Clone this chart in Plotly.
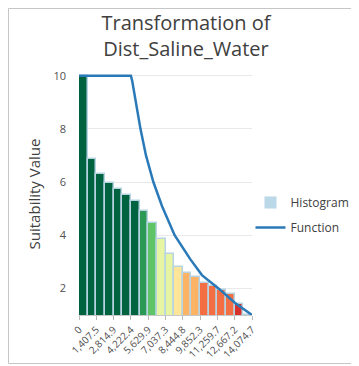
import plotly.graph_objects as go

# ---------------- data ----------------
x_max = 14074.7
n_bins = 20
hist_values = [10.0, 6.88, 6.32, 5.98, 5.75, 5.52, 5.30, 4.92, 4.45, 3.85,
               3.30, 2.80, 2.57, 2.44, 2.22, 2.09, 1.95, 1.78, 1.41, 1.0]
bar_colors = ["#006340", "#006340", "#006340", "#006340", "#006340", "#006340", "#006340",
              "#2b9956", "#5ec466", "#e7f4a1", "#e7f4a1", "#fee597", "#fdb366", "#fdb366",
              "#f46e43", "#f46e43", "#f46e43", "#f46e43", "#d7302d", "#b51c2c"]

func_x = [0, 4222.4, 4330, 4600, 5000, 5450, 6050, 6750, 7780, 9050, 10000, 11350, 12700, 14074.7]
func_y = [10, 10, 9.8, 9.05, 8.0, 7.0, 6.0, 5.1, 4.0, 3.1, 2.5, 2.0, 1.45, 1.0]

tick_vals = [0, 1407.47, 2814.94, 4222.41, 5629.88, 7037.35, 8444.82, 9852.29,
             11259.76, 12667.23, 14074.7]
tick_text = ["0", "1,407.5", "2,814.9", "4,222.4", "5,629.9", "7,037.3", "8,444.8",
             "9,852.3", "11,259.7", "12,667.2", "14,074.7"]

bin_width = x_max / n_bins
bin_starts = [i * bin_width for i in range(n_bins)]

# ---------------- figure ----------------
# the page adds an 8px body margin, so all positions are shifted by 8px
W, H = 351, 358
ml, mr, mt, mb = 71, 107, 65, 51
pw = W - ml - mr
ph = H - mt - mb
FONT = "Open Sans, Noto Sans, sans-serif"

fig = go.Figure()
fig.add_trace(go.Bar(
    x=bin_starts, y=hist_values, width=bin_width, offset=0,
    marker=dict(color=bar_colors, line=dict(color="#b7d4e3", width=1.5)),
    showlegend=False, name="Histogram", hoverinfo="skip"))
fig.add_trace(go.Bar(
    x=[None], y=[None], name="Histogram", legendgroup="h",
    marker=dict(color="#bad8e8", line=dict(width=0))))
fig.add_trace(go.Scatter(
    x=func_x, y=func_y, mode="lines", name="Function", legendgroup="f",
    line=dict(color="#2a7ab9", width=2.5)))

# outer frame (right and bottom edges of the reference's frame)
fig.add_shape(type="rect", xref="paper", yref="paper",
              x0=(0.5 - ml) / pw, x1=(W - 0.5 - ml) / pw,
              y0=(H - mb - 355.5) / ph, y1=(H - mb - 0.5) / ph,
              line=dict(color="#c6c6c6", width=1), layer="above")

fig.update_layout(
    width=W, height=H,
    margin=dict(l=ml, r=mr, t=mt, b=mb, autoexpand=False),
    paper_bgcolor="white", plot_bgcolor="white",
    font=dict(family=FONT, color="#444444"),
    bargap=0,
    title=dict(text="Transformation of<br>Dist_Saline_Water",
               x=178 / W, xref="container", xanchor="center",
               y=1 - 22 / H, yref="container", yanchor="top",
               font=dict(size=20, color="#404040", family=FONT)),
    legend=dict(x=242.5 / W, xref="container", xanchor="left",
                y=1 - 180 / H, yref="container", yanchor="top",
                font=dict(size=12, color="#404040"),
                traceorder="grouped", tracegroupgap=6,
                bgcolor="rgba(0,0,0,0)"),
    xaxis=dict(range=[0, x_max], tickvals=tick_vals, ticktext=tick_text,
               tickangle=-45, tickfont=dict(size=10, color="#505050"),
               showgrid=False, zeroline=False, automargin=False,
               showline=True, linecolor="#c8c8c8", linewidth=1,
               ticks="outside", ticklen=4, tickcolor="#b8b8b8"),
    yaxis=dict(range=[1, 10.1], tickvals=[2, 4, 6, 8, 10],
               tickfont=dict(size=11, color="#505050"),
               showgrid=True, gridcolor="#e9e9e9", gridwidth=1,
               zeroline=False, showline=False, automargin=False,
               ticklabelstandoff=12,
               title=dict(text="Suitability Value", standoff=9,
                          font=dict(size=15, color="#404040"))),
)

fig.write_html("out.html")
